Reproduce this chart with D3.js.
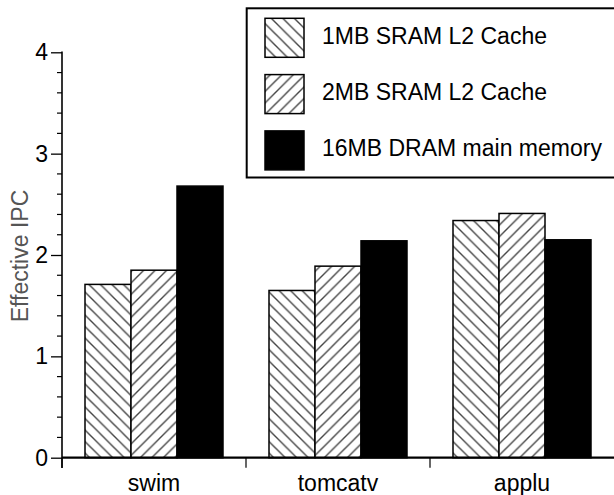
<!DOCTYPE html>
<html><head><meta charset="utf-8">
<script src="https://cdn.jsdelivr.net/npm/d3@7"></script>
<style>body{margin:0;background:#fff}svg{display:block}text{font-family:"Liberation Sans",Arial,sans-serif}</style>
</head><body>
<script>
const categories = ["swim", "tomcatv", "applu"];
const seriesNames = ["1MB SRAM L2 Cache", "2MB SRAM L2 Cache", "16MB DRAM main memory"];
const sram1MB = [1.71, 1.65, 2.34];
const sram2MB = [1.85, 1.89, 2.41];
const dram16MB = [2.68, 2.14, 2.15];
const yTicks = [0, 1, 2, 3, 4];
const yLabel = "Effective IPC";

const W = 614, H = 495;
const svg = d3.select("body").append("svg").attr("width", W).attr("height", H);
const defs = svg.append("defs");
function hatch(id, dir) {
  const s = 11.5;
  const p = defs.append("pattern").attr("id", id).attr("patternUnits", "userSpaceOnUse")
    .attr("width", s).attr("height", s);
  p.append("rect").attr("width", s).attr("height", s).attr("fill", "#fff");
  const segs = dir === "back"
    ? [[0,0,s,s],[-s/2,s/2,s/2,s*1.5],[s/2,-s/2,s*1.5,s/2]]
    : [[0,s,s,0],[-s/2,s/2,s/2,-s/2],[s/2,s*1.5,s*1.5,s/2]];
  segs.forEach(d => p.append("line").attr("x1", d[0]).attr("y1", d[1]).attr("x2", d[2]).attr("y2", d[3])
    .attr("stroke", "#444").attr("stroke-width", 1.4));
}
hatch("hBack", "back");
hatch("hFwd", "fwd");
const fills = ["url(#hBack)", "url(#hFwd)", "#000"];
const seriesData = [sram1MB, sram2MB, dram16MB];

const x0 = d3.scaleBand().domain(categories).range([62, 614]).padding(0);
const x1 = d3.scaleBand().domain(d3.range(3)).range([0, x0.bandwidth()]).paddingInner(0).paddingOuter(0.5);
const y = d3.scaleLinear().domain([0, 4]).range([457.7, 52.3]);

// bars
categories.forEach((c, ci) => {
  seriesData.forEach((arr, si) => {
    svg.append("rect")
      .attr("x", x0(c) + x1(si))
      .attr("y", y(arr[ci]))
      .attr("width", x1.bandwidth())
      .attr("height", y(0) - y(arr[ci]))
      .attr("fill", fills[si])
      .attr("stroke", "#000").attr("stroke-width", 1.5);
  });
});

// y axis
const yAxisG = svg.append("g").attr("transform", "translate(62,0)");
const minor = d3.range(0, 4.001, 0.2).filter(v => Math.abs(v - Math.round(v)) > 1e-6);
yAxisG.selectAll("line.minor").data(minor).join("line")
  .attr("x1", -5).attr("x2", 0).attr("y1", d => y(d)).attr("y2", d => y(d))
  .attr("stroke", "#000").attr("stroke-width", 1.2);
const yAxis = d3.axisLeft(y).tickValues(yTicks).tickFormat(d3.format("d")).tickSize(11).tickPadding(3);
yAxisG.call(yAxis);
yAxisG.select(".domain").remove();
yAxisG.selectAll(".tick line").attr("stroke-width", 1.3);
yAxisG.selectAll(".tick text").attr("font-size", 23).attr("fill", "#000")
  .attr("font-family", '"Liberation Sans",Arial,sans-serif');
yAxisG.append("line").attr("x1", 0).attr("x2", 0).attr("y1", y(4) - 0.7).attr("y2", 468)
  .attr("stroke", "#000").attr("stroke-width", 1.6);

// x axis
const xAxisG = svg.append("g").attr("transform", `translate(0,${y(0)})`);
xAxisG.append("line").attr("x1", 62).attr("x2", 614).attr("stroke", "#000").attr("stroke-width", 2.2);
xAxisG.selectAll("line.xt").data(categories).join("line")
  .attr("x1", d => x0(d)).attr("x2", d => x0(d)).attr("y1", 0).attr("y2", 10)
  .attr("stroke", "#000").attr("stroke-width", 1.2);
xAxisG.selectAll("text.xl").data(categories).join("text")
  .attr("x", d => x0(d) + x0.bandwidth() / 2).attr("y", 33.5)
  .attr("text-anchor", "middle").attr("font-size", 23).attr("fill", "#000").text(d => d);

// y label
svg.append("text").attr("transform", "translate(28,256) rotate(-90)")
  .attr("text-anchor", "middle").attr("font-size", 23).attr("fill", "#555").text(yLabel);

// legend
const lg = svg.append("g");
lg.append("rect").attr("x", 246.7).attr("y", 8.3).attr("width", 380).attr("height", 169.2)
  .attr("fill", "#fff").attr("stroke", "#000").attr("stroke-width", 2);
seriesNames.forEach((n, i) => {
  const yy = 18.3 + i * 56.3;
  lg.append("rect").attr("x", 265).attr("y", yy).attr("width", 39).attr("height", 39)
    .attr("fill", fills[i]).attr("stroke", "#000").attr("stroke-width", 1.5);
  lg.append("text").attr("x", 322).attr("y", yy + 25.5).attr("font-size", 23).attr("fill", "#000").text(n);
});
</script>
</body></html>
